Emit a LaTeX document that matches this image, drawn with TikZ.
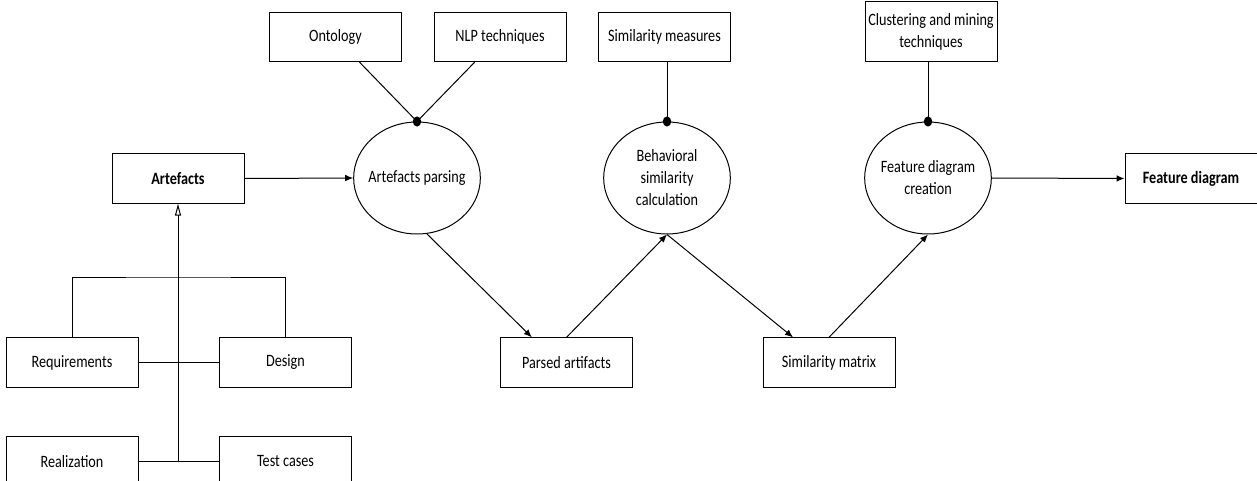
\documentclass[tikz,border=0pt]{standalone}
\usepackage{fontspec}
\setmainfont[FakeStretch=0.82]{Carlito}
\usetikzlibrary{arrows.meta,shapes.geometric}

\begin{document}
\begin{tikzpicture}[x=0.75pt, y=-0.75pt, line width=0.75pt,
			font=\fontsize{13}{16.5}\selectfont, align=center,
			box/.style={draw, rectangle, inner sep=0pt, minimum width=99pt, minimum height=37pt},
			proc/.style={draw, ellipse, inner ysep=0pt, inner xsep=-5pt, minimum width=95pt, minimum height=84pt},
			flow/.style={-{Latex[length=6pt,width=5pt]}},
			isa/.style={-{Triangle[open,length=9pt,width=4.5pt]}}]
			\clip (0,0) rectangle (1257,481);
			% artefact kinds
			\node[box, font=\fontsize{13}{16.5}\selectfont\bfseries] (artefacts) at (178,178.5) {Artefacts};
			\node[box] (requirements) at (72,362.5) {Requirements};
			\node[box] (design) at (285.5,362.5) {Design};
			\node[box] (realization) at (72,461.5) {Realization};
			\node[box] (testcases) at (285.5,461.5) {Test cases};
			\coordinate (bar) at (178,277);
			\coordinate (hub) at (178,462);
			% inputs
			\node[box] (ontology) at (335.5,37) {Ontology};
			\node[box] (nlp) at (500,37) {NLP techniques};
			\node[box] (measures) at (664.5,37) {Similarity measures};
			\node[box, minimum height=45pt] (mining) at (931,32) {Clustering and mining\\techniques};
			% processes
			\node[proc] (parsing) at (417,178) {Artefacts parsing};
			\node[proc] (behav) at (667,178) {Behavioral\\similarity\\calculation};
			\node[proc] (creation) at (928,178) {Feature diagram\\creation};
			% results
			\node[box] (parsed) at (566.5,362.5) {Parsed artifacts};
			\node[box] (matrix) at (829,362.5) {Similarity matrix};
			\node[box, font=\fontsize{13}{16.5}\selectfont\bfseries] (featdiag) at (1191,178.5) {Feature diagram};

			\draw[isa] (hub) -- (artefacts.south);
			\draw (realization.east) -- (testcases.west);
			\draw (requirements.east) -- (design.west);
			\draw (requirements.north) |- (bar) -| (design.north);

			\draw ([xshift=18pt]ontology.south) -- (parsing.north);
			\draw ([xshift=-19pt]nlp.south) -- (parsing.north);
			\draw (measures.south -| behav.north) -- (behav.north);
			\draw (mining.south -| creation.north) -- (creation.north);
			\foreach \p in {parsing, behav, creation}
				\fill (\p.north) ellipse (3.2pt and 3.8pt);

			\draw[flow] (artefacts.east) -- (parsing.west);
			\draw[flow] (parsing.-80) -- ([xshift=-26pt]parsed.north);
			\draw[flow] (parsed.north) -- (behav.south);
			\draw[flow] (behav.south) -- ([xshift=-27pt]matrix.north);
			\draw[flow] (matrix.north) -- (creation.south);
			\draw[flow] (creation.east) -- (featdiag.west);
\end{tikzpicture}
\end{document}
